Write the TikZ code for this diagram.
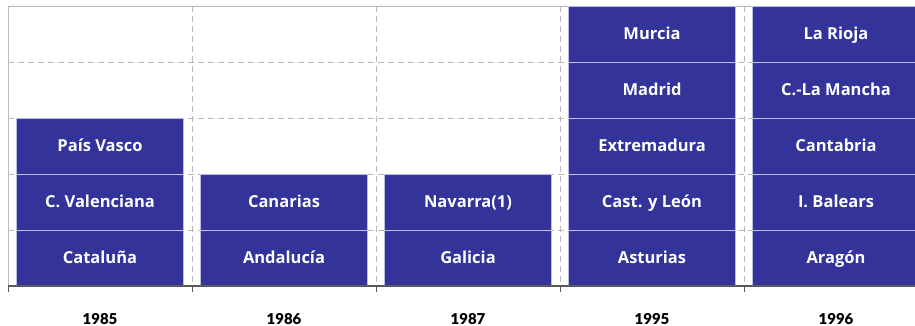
\documentclass[tikz,border=0pt]{standalone}
\usepackage{fontspec}
\setmainfont{Lato}[BoldFont={Lato Black}]
\newfontfamily\barfont{Open Sans}
\definecolor{barblue}{RGB}{51,51,153}
\definecolor{bordr}{RGB}{190,190,225}
\definecolor{gridc}{RGB}{185,185,185}
\definecolor{axisc}{RGB}{90,90,90}
\begin{document}
\begin{tikzpicture}[x=1pt,y=-1pt,
  bar/.style={fill=barblue,draw=bordr,line width=0.8pt,minimum width=167pt,minimum height=56pt,inner sep=0pt,
    text height=12pt,text depth=1pt,
    text=white,font=\barfont\fontsize{16.5}{18}\selectfont\bfseries},
  year/.style={font=\fontsize{15}{17}\selectfont\bfseries,text=black},
  grid/.style={draw=gridc,dashed,dash pattern=on 6pt off 4pt,line width=0.6pt}]
\useasboundingbox (0,0) rectangle (915,326);
% grid
\foreach \y in {62,118,174,230} \draw[grid] (8,\y) -- (915,\y);
\foreach \x in {192,376,560,744} \draw[grid] (\x,6) -- (\x,286);
\draw[gridc,line width=0.8pt] (8,286) -- (8,6) -- (915,6);
% bars
\node[bar] (cat) at (100,258) {Cataluña};
\node[bar] (cval) at (100,202) {C. Valenciana};
\node[bar] (pv) at (100,146) {País Vasco};
\node[bar] (and) at (284,258) {Andalucía};
\node[bar] (can) at (284,202) {Canarias};
\node[bar] (gal) at (468,258) {Galicia};
\node[bar] (nav) at (468,202) {Navarra(1)};
\node[bar] (ast) at (652,258) {Asturias};
\node[bar] (cyl) at (652,202) {Cast. y León};
\node[bar] (ext) at (652,146) {Extremadura};
\node[bar] (mad) at (652,90) {Madrid};
\node[bar] (mur) at (652,34) {Murcia};
\node[bar] (ara) at (836,258) {Aragón};
\node[bar] (bal) at (836,202) {I. Balears};
\node[bar] (cant) at (836,146) {Cantabria};
\node[bar] (clm) at (836,90) {C.-La Mancha};
\node[bar] (rio) at (836,34) {La Rioja};
% axis
\draw[axisc,line width=1.2pt] (8,286) -- (915,286);
\foreach \x in {8,192,376,560,744} \draw[axisc,line width=0.8pt] (\x,286) -- (\x,292);
% years
\node[year] (y1) at (100,319) {1985};
\node[year] (y2) at (284,319) {1986};
\node[year] (y3) at (468,319) {1987};
\node[year] (y4) at (652,319) {1995};
\node[year] (y5) at (836,319) {1996};
\end{tikzpicture}
\end{document}
